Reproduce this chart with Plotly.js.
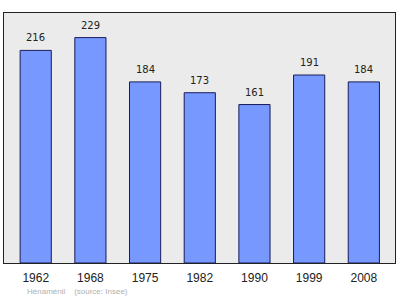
<!DOCTYPE html>
<html><head><meta charset="utf-8">
<script src="https://cdn.plot.ly/plotly-3.0.1.min.js"></script>
<style>html,body{margin:0;padding:0;background:#fff;}#c{width:400px;height:299px;}</style>
</head><body><div id="c"></div>
<script>
const years = ['1962','1968','1975','1982','1990','1999','2008'];
const population = [216,229,184,173,161,191,184];

const annotations = years.map((y,i)=>({
  xref:'x', yref:'y', x: i, y: population[i], text: String(population[i]), showarrow:false,
  yanchor:'bottom', yshift:5, font:{family:'DejaVu Sans', size:10, color:'#222'}
}));
annotations.push({
  xref:'paper', yref:'paper', x:0, y:0, xanchor:'left', yanchor:'middle', yshift:-28, xshift:21,
  text:'Hénaménil    (source: Insee)', showarrow:false,
  font:{family:'Liberation Sans', size:8, color:'#b0b0b0'}
});

Plotly.newPlot('c', [{
  type:'bar', x: years, y: population, width:0.57,
  marker:{color:'#7799ff', line:{color:'#1a1a5a', width:1}},
  hoverinfo:'none'
}], {
  width:400, height:299,
  margin:{l:4, r:5, t:13, b:36},
  paper_bgcolor:'#ffffff', plot_bgcolor:'#ebebeb',
  showlegend:false,
  xaxis:{type:'category', range:[-0.58,6.57], showline:true, mirror:true, linecolor:'#222', linewidth:1,
         ticks:'', showgrid:false, zeroline:false, ticklabelstandoff:4,
         tickfont:{family:'Liberation Sans', size:12, color:'#222'}},
  yaxis:{range:[0,254], showline:true, mirror:true, linecolor:'#222', linewidth:1,
         showticklabels:false, ticks:'', showgrid:false, zeroline:false},
  annotations: annotations
}, {staticPlot:true});
</script></body></html>
